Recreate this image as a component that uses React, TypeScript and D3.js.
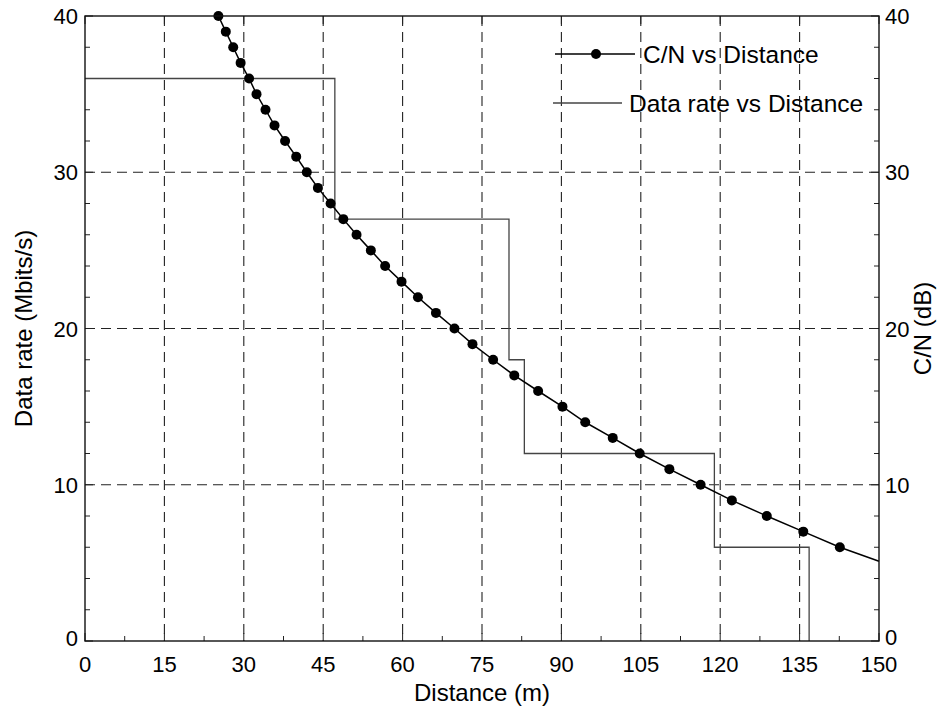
import React from "react";
import * as d3 from "d3";

// C/N vs Distance (markers)
const cnDistance = [25.2, 26.6, 28.0, 29.4, 31.0, 32.4, 34.1, 35.8, 37.8, 39.9, 41.9, 44.0, 46.4, 48.8, 51.3, 54.0, 56.7, 59.8, 62.9, 66.3, 69.8, 73.2, 77.1, 81.1, 85.6, 90.2, 94.5, 99.7, 104.8, 110.4, 116.3, 122.2, 128.8, 135.7, 142.6];
const cnValue = [40, 39, 38, 37, 36, 35, 34, 33, 32, 31, 30, 29, 28, 27, 26, 25, 24, 23, 22, 21, 20, 19, 18, 17, 16, 15, 14, 13, 12, 11, 10, 9, 8, 7, 6];
// curve continues to the right edge without a marker
const cnTailDistance = [150];
const cnTailValue = [5.1];

// Data rate vs Distance (step)
const rateDistance = [0, 47.2, 80.1, 83.0, 118.9, 136.8];
const rateValue = [36, 27, 18, 12, 6, 0];

const xTicks = [0, 15, 30, 45, 60, 75, 90, 105, 120, 135, 150];
const yTicks = [0, 10, 20, 30, 40];
const xMinor = d3.range(0, 150.01, 7.5);
const yMinor = d3.range(0, 40.01, 2);

const W = 942, H = 708;
const L = 85, R = 879, T = 16, B = 641;
const FONT = "Arial, 'Liberation Sans', Helvetica, sans-serif";

export default function App() {
  const x = d3.scaleLinear().domain([0, 150]).range([L, R]);
  const y = d3.scaleLinear().domain([0, 40]).range([B, T]);

  const cnPts: [number, number][] = cnDistance.map((d, i) => [d, cnValue[i]]);
  const cnLinePts: [number, number][] = cnPts.concat(cnTailDistance.map((d, i) => [d, cnTailValue[i]] as [number, number]));
  const cnLine = d3.line<[number, number]>().x(d => x(d[0])).y(d => y(d[1])).curve(d3.curveLinear)(cnLinePts) || "";

  const ratePts: [number, number][] = rateDistance.map((d, i) => [d, rateValue[i]]);
  const rateLine = d3.line<[number, number]>().x(d => x(d[0])).y(d => y(d[1])).curve(d3.curveStepAfter)(ratePts) || "";

  const dash = "10,6";
  return (
    <svg width={W} height={H} style={{ position: "absolute", left: 0, top: 0, background: "#fff" }} fontFamily={FONT}>
      <rect x={0} y={0} width={W} height={H} fill="#fff" />
      {/* grid */}
      {xTicks.filter(t => t > 0 && t < 150).map(t => (
        <line key={"gx" + t} x1={x(t)} x2={x(t)} y1={T} y2={B} stroke="#222" strokeWidth={1.1} strokeDasharray={dash} />
      ))}
      {yTicks.filter(t => t > 0 && t < 40).map(t => (
        <line key={"gy" + t} x1={L} x2={R} y1={y(t)} y2={y(t)} stroke="#222" strokeWidth={1.1} strokeDasharray={dash} />
      ))}
      {/* minor ticks */}
      {xMinor.map(t => (
        <line key={"mx" + t} x1={x(t)} x2={x(t)} y1={B} y2={B - (t % 15 === 0 ? 8 : 5)} stroke="#222" strokeWidth={1} />
      ))}
      {xTicks.map(t => (
        <line key={"tx" + t} x1={x(t)} x2={x(t)} y1={T} y2={T + 8} stroke="#222" strokeWidth={1} />
      ))}
      {yMinor.map(t => (
        <g key={"my" + t}>
          <line x1={L} x2={L + (t % 10 === 0 ? 8 : 5)} y1={y(t)} y2={y(t)} stroke="#222" strokeWidth={1} />
          <line x1={R} x2={R - (t % 10 === 0 ? 8 : 5)} y1={y(t)} y2={y(t)} stroke="#222" strokeWidth={1} />
        </g>
      ))}
      {/* data rate step line */}
      <path d={rateLine} fill="none" stroke="#444" strokeWidth={1.3} />
      {/* C/N curve */}
      <path d={cnLine} fill="none" stroke="#000" strokeWidth={1.5} />
      {cnPts.map((p, i) => (
        <circle key={"c" + i} cx={x(p[0])} cy={y(p[1])} r={5} fill="#000" />
      ))}
      {/* frame */}
      <rect x={L} y={T} width={R - L} height={B - T} fill="none" stroke="#111" strokeWidth={1.4} />
      {/* tick labels */}
      {xTicks.map(t => (
        <text key={"lx" + t} x={x(t)} y={B + 31} fontSize={22} textAnchor="middle" fill="#000">{t}</text>
      ))}
      {yTicks.map(t => (
        <text key={"ly" + t} x={L - 7} y={y(t) + (t === 0 ? 5 : 8)} fontSize={22} textAnchor="end" fill="#000">{t}</text>
      ))}
      {yTicks.map(t => (
        <text key={"ry" + t} x={R + 6} y={y(t) + (t === 0 ? 4 : 8)} fontSize={22} textAnchor="start" fill="#000">{t}</text>
      ))}
      {/* axis titles */}
      <text x={(L + R) / 2} y={701} fontSize={24} textAnchor="middle" fill="#000">Distance (m)</text>
      <text transform={`translate(32,${(T + B) / 2}) rotate(-90)`} fontSize={24} textAnchor="middle" fill="#000">Data rate (Mbits/s)</text>
      <text transform={`translate(931,${(T + B) / 2}) rotate(-90)`} fontSize={24} textAnchor="middle" fill="#000">C/N (dB)</text>
      {/* legend */}
      <line x1={555} x2={635} y1={54} y2={54} stroke="#000" strokeWidth={1.5} />
      <circle cx={596} cy={54} r={5} fill="#000" />
      <text x={643} y={63} fontSize={24.5} fill="#000">C/N vs Distance</text>
      <line x1={553} x2={622} y1={103} y2={103} stroke="#444" strokeWidth={1.3} />
      <text x={629} y={112} fontSize={24.5} fill="#000">Data rate vs Distance</text>
    </svg>
  );
}
